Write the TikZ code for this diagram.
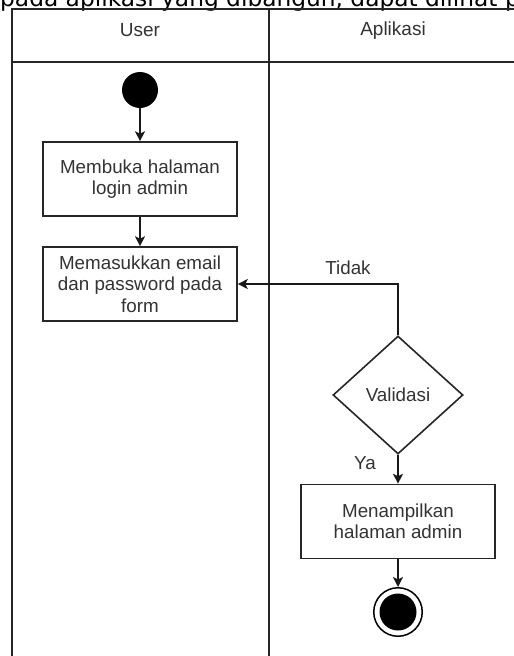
\documentclass[tikz,border=0pt]{standalone}
\usepackage{fontspec}
\setmainfont{Liberation Sans}
\newfontfamily\captionfont{DejaVu Sans}
\usetikzlibrary{shapes.geometric,arrows.meta}

\begin{document}
\begin{tikzpicture}[x=1pt,y=-1pt,
  lane/.style={draw=black!85, line width=1.6pt},
  header/.style={font=\fontsize{19}{22}\selectfont, text=black!80, inner sep=0pt},
  act/.style={draw=black!85, line width=1.6pt, rectangle, minimum width=194pt,
    minimum height=74pt, align=center, inner sep=2pt,
    font=\fontsize{18.8}{21.5}\selectfont, text=black!80},
  decision/.style={draw=black!85, line width=1.6pt, diamond, minimum width=130pt,
    minimum height=118pt, inner sep=0pt, font=\fontsize{18.8}{21.5}\selectfont,
    text=black!80},
  flow/.style={draw=black!90, line width=1.6pt,
    -{Stealth[length=10pt,width=10pt,inset=2.5pt]}},
  lbl/.style={font=\fontsize{18.8}{21.5}\selectfont, text=black!80, inner sep=0pt},
]
\useasboundingbox (0,0) rectangle (514,656);
\clip (0,0) rectangle (514,656);
\fill[white] (0,0) rectangle (514,656);

% running text line above the diagram
\node[anchor=base west, inner sep=0pt, font=\captionfont\fontsize{23.3}{28}\selectfont]
  (caption) at (0,6) {pada aplikasi yang dibangun, dapat dilihat p};

% swimlanes
\draw[lane] (12,664) -- (12,9) -- (522,9);
\draw[lane] (12,62) -- (522,62);
\draw[lane] (269,9) -- (269,664);
\node[header] (hUser) at (140,30.5) {User};
\node[header] (hApp) at (393,30.5) {Aplikasi};

% activities
\node[circle, fill=black, minimum size=36pt, inner sep=0pt] (start) at (140,90) {};
\node[act] (open) at (140,179) {Membuka halaman\\login admin};
\node[act] (input) at (140,284) {Memasukkan email\\dan password pada\\form};
\node[decision] (valid) at (398,395) {Validasi};
\node[act] (show) at (398,521.5) {Menampilkan\\halaman admin};
\node[circle, draw=black, line width=1.5pt, minimum size=48.5pt, inner sep=0pt] (end) at (398,612) {};
\node[circle, fill=black, minimum size=37pt, inner sep=0pt] (endDot) at (end) {};

% connectors
\draw[flow] (start) -- (open);
\draw[flow] (open) -- (input);
\draw[flow] (valid.north) |- (input.east);
\draw[flow] (valid.south) -- (show.north);
\draw[flow] (show.south) -- (end.north);

% guard labels
\node[lbl] (noLbl) at (348,268) {Tidak};
\node[lbl] (yesLbl) at (365,463) {Ya};
\end{tikzpicture}
\end{document}
